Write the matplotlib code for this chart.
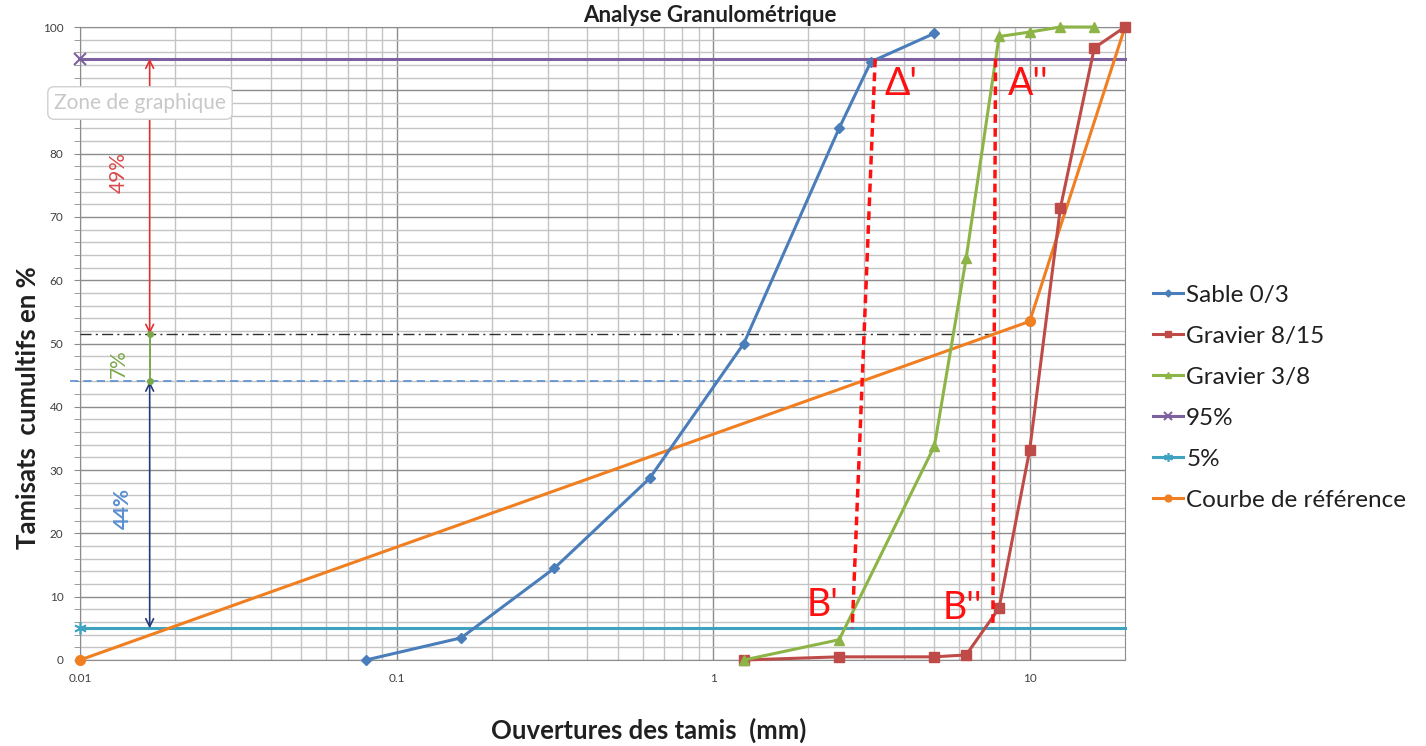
import matplotlib.pyplot as plt
from matplotlib.ticker import FixedLocator, NullFormatter, FixedFormatter

# ---------------- data ----------------
sieves_sable = [0.08, 0.16, 0.315, 0.63, 1.25, 2.5, 3.15, 5]
sable = [0, 3.5, 14.5, 28.7, 50, 84, 94.5, 99]

sieves_g815 = [1.25, 2.5, 5, 6.3, 8, 10, 12.5, 16, 20]
g815 = [0, 0.5, 0.5, 0.8, 8.2, 33.2, 71.4, 96.7, 100]

sieves_g38 = [1.25, 2.5, 5, 6.3, 8, 10, 12.5, 16]
g38 = [0, 3.2, 33.8, 63.5, 98.5, 99.2, 100, 100]

sieves_ref = [0.01, 10, 20]
ref = [0, 53.5, 100]

limit_x = [0.01, 20]
line95 = [95, 95]
line5 = [5, 5]

# construction lines (Dreux-Gorisse)
x_arrow = 0.0166
level_sup, level_mid, level_low, level_inf = 95, 51.5, 44, 5
Aprime = (3.25, 95); Bprime = (2.75, 5)
Asec = (7.8, 95); Bsec = (7.65, 5)
pct_labels = ["49%", "7%", "44%"]

xticks = [0.01, 0.1, 1, 10]
xticklabels = ["0.01", "0.1", "1", "10"]
yticks = list(range(0, 101, 10))

# ---------------- style ----------------
plt.rcParams['font.family'] = ['Lato', 'DejaVu Sans']
c_sable = '#4a7ebb'
c_g815 = '#be4b48'
c_g38 = '#8db446'
c_95 = '#7d60a0'
c_5 = '#3fa3bf'
c_ref = '#f07f22'

fig = plt.figure(figsize=(14.26, 7.46), dpi=100)
ax = fig.add_axes([80/1426, 86/746, (1125-80)/1426, (660-27)/746])
ax.set_xscale('log')
ax.set_xlim(0.01, 20)
ax.set_ylim(0, 100)

# grid
minor_x = [m * 10.0**e for e in range(-2, 2) for m in range(2, 10) if m * 10.0**e < 20]
ax.xaxis.set_major_locator(FixedLocator(xticks))
ax.xaxis.set_major_formatter(FixedFormatter(xticklabels))
ax.xaxis.set_minor_locator(FixedLocator(minor_x))
ax.xaxis.set_minor_formatter(NullFormatter())
ax.yaxis.set_major_locator(FixedLocator(yticks))
ax.yaxis.set_minor_locator(FixedLocator(list(range(0, 101, 2))))
ax.grid(which='major', color='#8c8c8c', lw=1.0)
ax.grid(which='minor', color='#c4c4c4', lw=1.0)
ax.set_axisbelow(True)
for s in ax.spines.values():
    s.set_color('#8c8c8c')
ax.tick_params(axis='both', which='both', labelsize=8.5, colors='#404040', length=0)
ax.tick_params(axis='y', which='both', direction='out', length=4, color='#8c8c8c', pad=8)
ax.tick_params(axis='x', which='major', pad=9)

lw = 2.2
ax.plot(limit_x, line95, color=c_95, lw=lw, marker='x', ms=8, mew=1.5, markevery=[0], clip_on=False, zorder=3, label='95%')
ax.plot(limit_x, line5, color=c_5, lw=lw, marker=(6, 2, 0), ms=9, mew=1.2, markevery=[0], clip_on=False, zorder=3, label='5%')
ax.plot(sieves_ref, ref, color=c_ref, lw=lw, marker='o', ms=7, clip_on=False, zorder=4, label='Courbe de référence')
ax.plot(sieves_sable, sable, color=c_sable, lw=lw, marker='D', ms=5, clip_on=False, zorder=5, label='Sable 0/3')
ax.plot(sieves_g815, g815, color=c_g815, lw=lw, marker='s', ms=7, clip_on=False, zorder=5, label='Gravier 8/15')
ax.plot(sieves_g38, g38, color=c_g38, lw=lw, marker='^', ms=7, clip_on=False, zorder=5, label='Gravier 3/8')

# construction lines
ax.plot([0.01, Bsec[0]], [level_mid, level_mid], color='#303030', lw=1.0, ls=(0, (8, 3, 1.5, 3)), zorder=3)
ax.plot([0.0093, Bprime[0]], [level_low, level_low], color='#5b8fd0', lw=1.2, ls=(0, (5, 3)), zorder=3, clip_on=False)
ax.plot([Aprime[0], Bprime[0]], [Aprime[1], Bprime[1]], color='#ff1010', lw=2.5, ls=(0, (2.5, 1.5)), zorder=6)
ax.plot([Asec[0], Bsec[0]], [Asec[1], Bsec[1]], color='#ff1010', lw=2.5, ls=(0, (2.5, 1.5)), zorder=6)

ax.annotate('', xy=(x_arrow, level_sup), xytext=(x_arrow, level_mid),
            arrowprops=dict(arrowstyle='<->', color='#e03030', lw=1.2, shrinkA=0, shrinkB=0, mutation_scale=14))
ax.plot([x_arrow, x_arrow], [level_mid, level_low], color='#7aa84a', lw=1.4, marker='o', ms=4, zorder=4)
ax.annotate('', xy=(x_arrow, level_low), xytext=(x_arrow, level_inf),
            arrowprops=dict(arrowstyle='<->', color='#23397a', lw=1.2, shrinkA=0, shrinkB=0, mutation_scale=14))

ax.text(0.0133, 77, pct_labels[0], color='#d84a4a', rotation=90, fontsize=15, ha='center', va='center')
ax.text(0.0133, 46.8, pct_labels[1], color='#7aa84a', rotation=90, fontsize=15, ha='center', va='center')
ax.text(0.0137, 24, pct_labels[2], color='#5b8fd0', rotation=90, fontsize=15, ha='center', va='center', fontweight='bold')

ax.text(3.49, 91, "Δ'", color='#ff1010', fontsize=27, ha='left', va='center')
ax.text(8.55, 91, "A''", color='#ff1010', fontsize=27, ha='left', va='center')
ax.text(1.98, 8.7, "B'", color='#ff1010', fontsize=27, ha='left', va='center')
ax.text(5.29, 8.2, "B''", color='#ff1010', fontsize=27, ha='left', va='center')

# labels
fig.text(710/1426, 1 - 15/746, 'Analyse Granulométrique', ha='center', va='center', fontsize=16, fontweight='bold', color='#202020')
fig.text(28/1426, 1 - 408/746, 'Tamisats  cumultifs en %', rotation=90, ha='center', va='center', fontsize=18.5, fontweight='bold', color='#202020')
fig.text(649/1426, 1 - 730/746, 'Ouvertures des tamis  (mm)', ha='center', va='center', fontsize=18.5, fontweight='bold', color='#202020')

fig.text(140/1426, 1 - 103/746, 'Zone de graphique', ha='center', va='center', fontsize=15, color='#c8c8c8',
         bbox=dict(boxstyle='round,pad=0.3', fc='white', ec='#d0d0d0', lw=1))

handles, labels = ax.get_legend_handles_labels()
order = ['Sable 0/3', 'Gravier 8/15', 'Gravier 3/8', '95%', '5%', 'Courbe de référence']
hmap = dict(zip(labels, handles))
leg = fig.legend([hmap[k] for k in order], order, loc='upper left', bbox_to_anchor=(1131/1426, 1 - 263/746),
                 frameon=False, fontsize=17.5, handlelength=1.25, handletextpad=0.12, labelspacing=0.82,
                 markerscale=0.7)
for t in leg.get_texts():
    t.set_color('#202020')

fig.savefig('out.png', dpi=100)
